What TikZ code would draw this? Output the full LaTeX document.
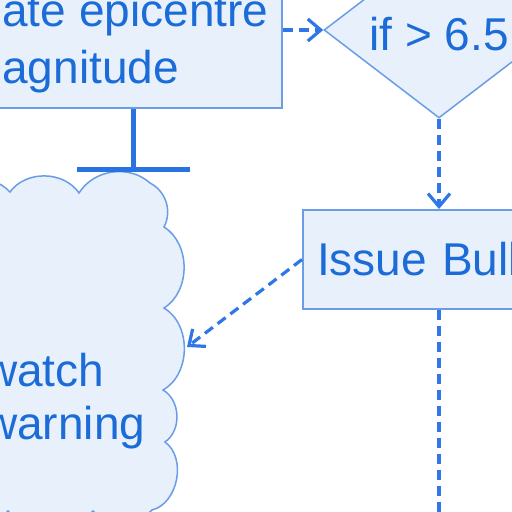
\documentclass[tikz,border=0pt]{standalone}
\usepackage{fontspec}
\setmainfont{Liberation Sans}
\usetikzlibrary{shapes.geometric,arrows.meta}
\definecolor{txt}{HTML}{1C6CD8}
\definecolor{bord}{HTML}{6A9DE6}
\definecolor{fillc}{HTML}{E8F1FB}
\definecolor{lnc}{HTML}{2F76E6}
\definecolor{teec}{HTML}{2873E1}
\begin{document}
\begin{tikzpicture}[x=1pt,y=-1pt,
  box/.style={draw=bord, fill=fillc, line width=2pt, inner sep=0pt, text=txt},
  dec/.style={diamond, draw=bord, fill=fillc, line width=1.5pt, inner sep=0pt,
    shape aspect=1.3, text=txt, font=\fontsize{46}{53}\selectfont},
  flow/.style={draw=lnc, line width=3.2pt, dash pattern=on 10pt off 6pt},
  flowarrow/.style={flow, -{Straight Barb[length=13pt,width=22pt]}},
  tee/.style={draw=teec, line width=5.5pt, -{Bar[width=113pt]}}]
\useasboundingbox (0,0) rectangle (512,512);
\clip (0,0) rectangle (512,512);
\fill[white] (0,0) rectangle (512,512);

% nodes
\node[box, minimum width=421pt, minimum height=129pt, align=center,
  font=\fontsize{46}{57}\selectfont] (calc) at (71.5,43.5) {Calculate epicentre\\magnitude};
\node[dec, minimum width=230pt, minimum height=176pt, text height=40pt, text depth=0pt]
  (chk) at (439,30) {if > 6.5};
\node[box, anchor=west, inner xsep=14pt, inner ysep=0pt, text width=290pt, align=left,
  minimum height=99pt, font=\fontsize{46}{53}\selectfont] (issue) at (302,259.5) {Issue Bulletin};

% cloud
\path[draw=bord, fill=fillc, line width=1.5pt]
  (-60,560) -- (-60,196)
  to[bend left=50] (10,192)
  to[bend left=55] (79,193)
  to[bend left=50] (150,183)
  to[bend left=45] (164,227)
  to[bend left=58] (164,308)
  to[bend left=60] (163,390)
  to[bend left=58] (165,442)
  to[bend left=65] (152,510)
  to[bend left=45] (93,511)
  to[bend left=45] (8,511)
  to[bend left=45] (-60,515) -- cycle;
\coordinate (ctop) at (133.5,172);
\coordinate (cright) at (187,347);
\node[text=txt, inner sep=0pt, anchor=west, align=left,
  font=\fontsize{46}{53}\selectfont] (cloudtxt) at (-16,401.6) {watch\\warning};
\coordinate (downend) at (439,540);

% connectors
\draw[flowarrow] (calc.east |- chk.west) -- (chk.west);
\draw[flowarrow] (chk.south) -- (chk.south |- issue.north);
\draw[flowarrow] (issue.west) -- (cright);
\draw[flow] (chk.south |- issue.south) -- (downend);
\draw[tee] (calc.south -| ctop) -- (ctop);
\end{tikzpicture}
\end{document}
